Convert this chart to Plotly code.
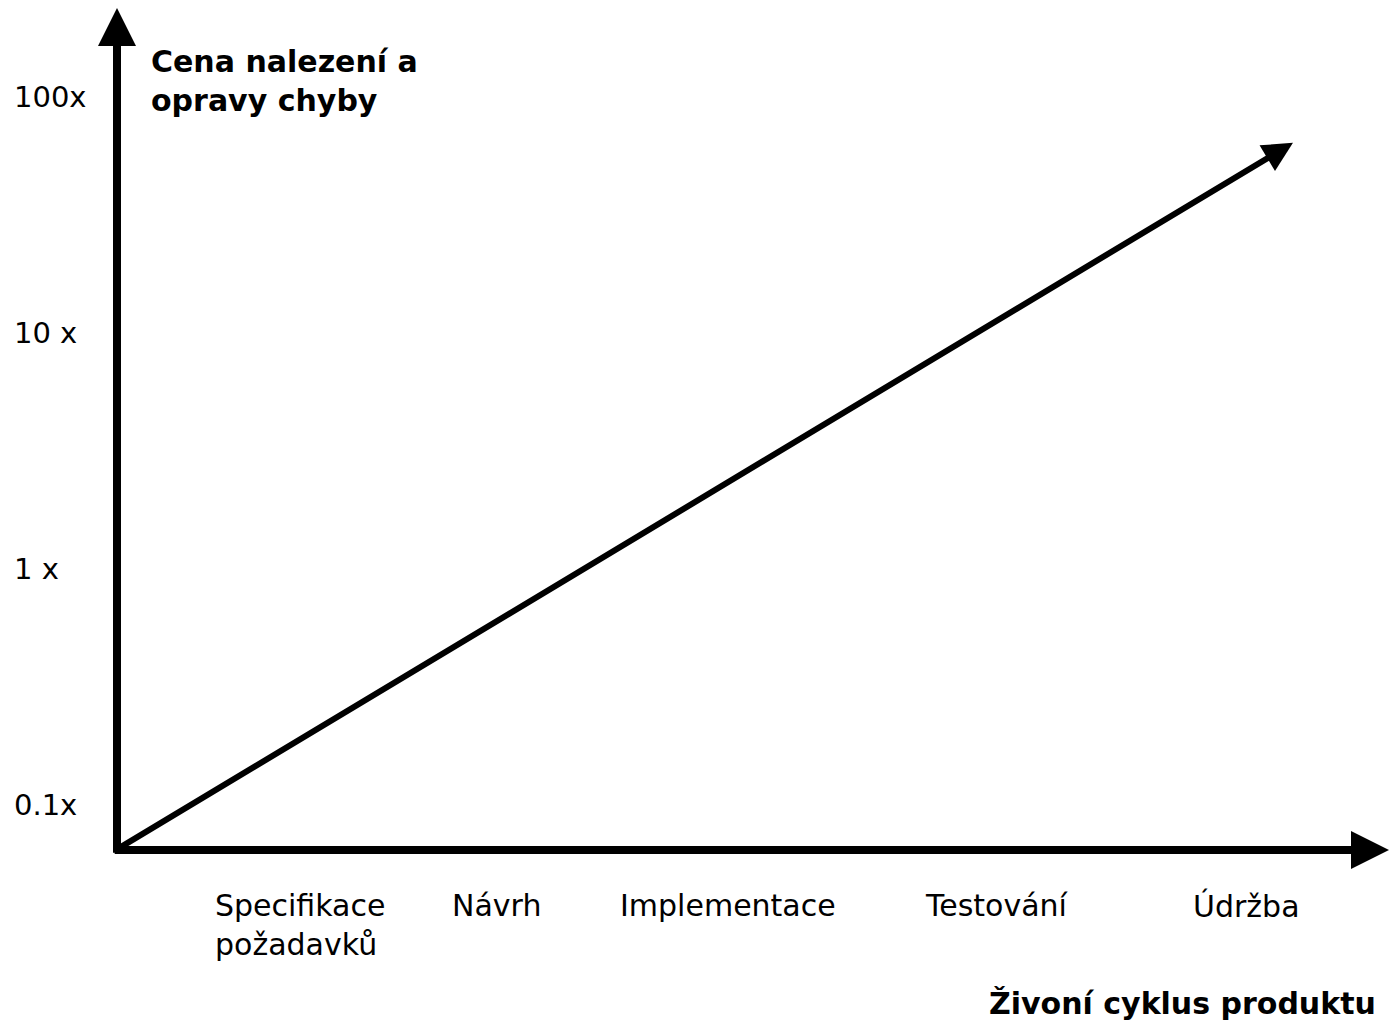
import math
import plotly.graph_objects as go

# ---- data ----
stages = ["Specifikace<br>požadavků", "Návrh", "Implementace", "Testování", "Údržba"]
stage_pos = [183, 379, 611, 880, 1129]          # position along the life-cycle axis
cost_ticks = [0.1, 1, 10, 100]
cost_tick_labels = ["0.1x", "1 x", "10 x", "100x"]
line_x = [0, 1176]          # life-cycle position (start, end of trend)
line_cost = [0.065, 64]     # relative cost at start / end of trend

y_title = "Cena nalezení a<br>opravy chyby"
x_title = "Živoní cyklus produktu"

FONT = "DejaVu Sans"
fig = go.Figure()

# invisible trace to set up axes
fig.add_trace(go.Scatter(x=line_x, y=line_cost, mode="lines",
                         line=dict(color="rgba(0,0,0,0)"), hoverinfo="skip", showlegend=False))

ann = []
# trend line with arrowhead
ann.append(dict(x=line_x[1], y=math.log10(line_cost[1]), xref="x", yref="y",
                ax=line_x[0], ay=math.log10(line_cost[0]), axref="x", ayref="y",
                showarrow=True, arrowhead=2, arrowsize=1.0, arrowwidth=6,
                arrowcolor="black", standoff=0, startstandoff=0, text=""))
# axes arrows
ann.append(dict(x=0, y=0.9906, xref="x domain", yref="y domain", ax=0, ay=-0.005,
                axref="x domain", ayref="y domain",
                showarrow=True, arrowhead=2, arrowsize=0.95, arrowwidth=8, arrowcolor="black",
                standoff=0, text=""))
ann.append(dict(x=1.0, y=0, xref="x domain", yref="y domain", ax=-0.003, ay=0.0,
                axref="x domain", ayref="y domain",
                showarrow=True, arrowhead=2, arrowsize=0.95, arrowwidth=8, arrowcolor="black",
                standoff=0, text=""))
# y tick labels (left aligned)
for v, t in zip(cost_ticks, cost_tick_labels):
    ann.append(dict(x=-0.0826, y=math.log10(v), xref="paper", yref="y", text=t, showarrow=False,
                    xanchor="left", yanchor="middle", font=dict(family=FONT, size=29, color="black")))
# x stage labels
for p, s in zip(stage_pos, stages):
    ann.append(dict(x=p, y=-0.0424, xref="x", yref="paper", text=s, showarrow=False,
                    xanchor="center", yanchor="top", align="left",
                    font=dict(family=FONT, size=30, color="black")))
# axis titles
ann.append(dict(x=0.0252, y=0.9506, xref="paper", yref="paper", text="<b>" + y_title + "</b>",
                showarrow=False, xanchor="left", yanchor="top", align="left",
                font=dict(family=FONT, size=30, color="black")))
ann.append(dict(x=0.9914, y=-0.18, xref="paper", yref="paper", text="<b>" + x_title + "</b>",
                showarrow=False, xanchor="right", yanchor="middle",
                font=dict(family=FONT, size=30, color="black")))

fig.update_layout(
    width=1389, height=1028,
    margin=dict(l=117, r=0, t=0, b=178),
    paper_bgcolor="white", plot_bgcolor="white",
    showlegend=False,
    xaxis=dict(range=[0, 1272], visible=False, showgrid=False, zeroline=False, fixedrange=True),
    yaxis=dict(type="log", range=[-1.19, 2.411], visible=False, showgrid=False, zeroline=False,
               fixedrange=True),
    annotations=ann,
)

fig.write_html("out.html", config={"displayModeBar": False},
               post_script="document.body.style.margin='0';document.body.style.overflow='hidden';")
